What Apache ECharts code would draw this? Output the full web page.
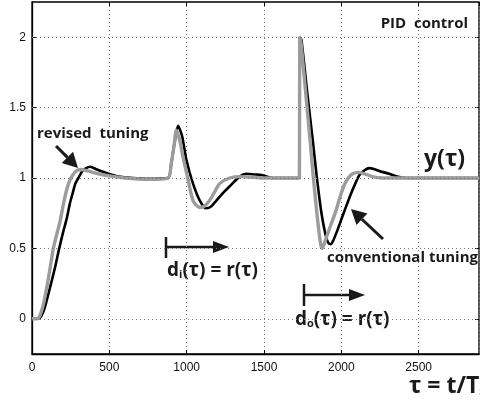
<!DOCTYPE html>
<html>
<head>
<meta charset="utf-8">
<script src="https://cdn.jsdelivr.net/npm/echarts@6/dist/echarts.min.js"></script>
<style>
html,body{margin:0;padding:0;background:#fff;}
#main{width:480px;height:409px;}
</style>
</head>
<body>
<div id="main"></div>
<script>
// conventional tuning (black)
var tConv = [0, 40, 60, 80, 116, 150, 176, 200, 224, 245, 265, 280, 300, 323, 350, 376, 420, 495, 560, 650,
	750, 880, 900, 920, 944, 970, 998, 1041, 1085, 1127, 1160, 1192, 1240, 1277, 1342, 1385, 1440, 1490, 1560, 1650,
	1729, 1731, 1742, 1780, 1815, 1840, 1870, 1897, 1915, 1930, 1945, 1975, 2008, 2035, 2063, 2090, 2116, 2150, 2181,
	2220, 2260, 2310, 2360, 2420, 2550, 2700, 2890];
var yConv = [0, 0, 0.02, 0.07, 0.22, 0.37, 0.5, 0.61, 0.71, 0.82, 0.9, 0.96, 1.0, 1.045, 1.07, 1.08, 1.06, 1.03, 1.01, 1.0,
	0.995, 1.0, 1.1, 1.24, 1.37, 1.3, 1.13, 0.96, 0.84, 0.785, 0.8, 0.84, 0.9, 0.94, 1.01, 1.03, 1.025, 1.02, 1.0, 1.0,
	1.0, 2.0, 1.98, 1.6, 1.27, 1.02, 0.76, 0.6, 0.54, 0.53, 0.55, 0.63, 0.73, 0.81, 0.89, 0.96, 1.02, 1.055, 1.07,
	1.06, 1.045, 1.03, 1.01, 1.0, 1.0, 1.0, 1.0];
// revised tuning (gray)
var tRev = [0, 30, 50, 73, 100, 120, 138, 160, 181, 204, 225, 247, 280, 312, 360, 430, 500, 600, 750, 880,
	900, 920, 933, 955, 976, 1009, 1041, 1084, 1115, 1148, 1180, 1213, 1277, 1350, 1500, 1650, 1729, 1731, 1740, 1770,
	1800, 1820, 1840, 1855, 1865, 1873, 1885, 1910, 1940, 1966, 1990, 2019, 2045, 2073, 2110, 2150, 2200, 2260, 2400,
	2600, 2890];
var yRev = [0, 0, 0.02, 0.1, 0.25, 0.38, 0.5, 0.6, 0.69, 0.82, 0.92, 0.99, 1.045, 1.06, 1.05, 1.03, 1.015, 1.0, 0.99, 1.0,
	1.1, 1.24, 1.34, 1.27, 1.15, 0.99, 0.84, 0.79, 0.8, 0.84, 0.9, 0.96, 1.0, 1.01, 1.0, 1.0, 1.0, 2.0, 1.95, 1.6,
	1.24, 0.99, 0.77, 0.62, 0.54, 0.5, 0.52, 0.6, 0.69, 0.77, 0.86, 0.95, 1.0, 1.03, 1.04, 1.03, 1.01, 1.0, 1.0,
	1.0, 1.0];
// y ticks / dotted grid rows
var yTicks = [0, 0.5, 1, 1.5, 2];

function pairs(t, y) {
	var out = [];
	for (var i = 0; i < t.length; i++) out.push([t[i], y[i]]);
	return out;
}

// arrow = line + triangle head
function arrow(x1, y1, x2, y2, len, w, lw) {
	var dx = x2 - x1, dy = y2 - y1, d = Math.sqrt(dx * dx + dy * dy);
	var ux = dx / d, uy = dy / d;
	var bx = x2 - ux * len, by = y2 - uy * len;
	return [{
		type: 'line', shape: {x1: x1, y1: y1, x2: bx, y2: by},
		style: {stroke: '#1a1a1a', lineWidth: lw}
	}, {
		type: 'polygon',
		shape: {points: [[x2, y2], [bx - uy * w, by + ux * w], [bx + uy * w, by - ux * w]]},
		style: {fill: '#1a1a1a'}
	}];
}

var FONT = '"Open Sans", "DejaVu Sans", sans-serif';
var txt = '#1a1a1a';

var myChart = echarts.init(document.getElementById('main'));

var gfx = [].concat(
	arrow(56, 146, 78, 168, 15, 8, 3),
	arrow(383, 239, 351, 209, 15, 8, 3),
	arrow(166, 247, 229, 247, 16, 6, 2.5),
	arrow(304, 295, 365, 295, 16, 6, 2.5),
	[{
		type: 'line', shape: {x1: 166, y1: 237, x2: 166, y2: 258},
		style: {stroke: '#1a1a1a', lineWidth: 2.5}
	}, {
		type: 'line', shape: {x1: 304, y1: 284, x2: 304, y2: 306},
		style: {stroke: '#1a1a1a', lineWidth: 2.5}
	}, {
		type: 'text', x: 468, y: 24,
		style: {text: 'PID  control', font: 'bold 15px ' + FONT, fill: txt, textAlign: 'right', textVerticalAlign: 'middle'}
	}, {
		type: 'text', x: 37, y: 134,
		style: {text: 'revised  tuning', font: 'bold 15px ' + FONT, fill: txt, textAlign: 'left', textVerticalAlign: 'middle'}
	}, {
		type: 'text', x: 424, y: 159,
		style: {text: 'y(τ)', font: 'bold 23px ' + FONT, fill: txt, textAlign: 'left', textVerticalAlign: 'middle'}
	}, {
		type: 'text', x: 327, y: 258,
		style: {text: 'conventional tuning', font: 'bold 15px ' + FONT, fill: txt, textAlign: 'left', textVerticalAlign: 'middle'}
	}, {
		type: 'text', x: 167, y: 271,
		style: {
			text: '{b|d}{s|i}{b|(τ) = r(τ)}', textAlign: 'left', textVerticalAlign: 'middle',
			rich: {
				b: {font: 'bold 19px ' + FONT, fill: txt},
				s: {font: 'bold 11px ' + FONT, fill: txt, verticalAlign: 'bottom'}
			}
		}
	}, {
		type: 'text', x: 295, y: 320,
		style: {
			text: '{b|d}{s|o}{b|(τ) = r(τ)}', textAlign: 'left', textVerticalAlign: 'middle',
			rich: {
				b: {font: 'bold 19px ' + FONT, fill: txt},
				s: {font: 'bold 11px ' + FONT, fill: txt, verticalAlign: 'bottom'}
			}
		}
	}, {
		type: 'text', x: 409, y: 386,
		style: {
			text: '{b|τ = t/T}{s|s}', textAlign: 'left', textVerticalAlign: 'middle',
			rich: {
				b: {font: 'bold 23px ' + FONT, fill: txt},
				s: {font: 'bold 12px ' + FONT, fill: txt, verticalAlign: 'bottom'}
			}
		}
	}]
);

var tickFont = {color: '#111', fontFamily: '"Liberation Sans", Arial, sans-serif', fontSize: 12};
var plain = function (v) { return String(v); };
var option = {
	animation: false,
	backgroundColor: '#fff',
	grid: {left: 32, right: 1, top: 2, bottom: 55, show: true, borderColor: '#000', borderWidth: 1.3},
	xAxis: [{
		type: 'value', min: 0, max: 2890, interval: 500,
		axisLine: {show: true, onZero: false, lineStyle: {color: '#000', width: 1.3}},
		axisTick: {show: true, inside: true, length: 4, lineStyle: {color: '#000'}},
		axisLabel: Object.assign({margin: 8, showMaxLabel: false, formatter: plain}, tickFont),
		splitLine: {show: true, lineStyle: {color: '#777', type: [1, 3], width: 1}}
	}, {
		type: 'value', min: 0, max: 2890, interval: 500, position: 'top',
		axisLine: {show: false, onZero: false},
		axisTick: {show: true, inside: true, length: 4, lineStyle: {color: '#000'}},
		axisLabel: {show: false}, splitLine: {show: false}
	}],
	yAxis: [{
		type: 'value', min: -0.25, max: 2.25,
		axisLine: {show: true, onZero: false, lineStyle: {color: '#000', width: 1.3}},
		axisTick: {show: true, inside: true, length: 4, lineStyle: {color: '#000'}, customValues: yTicks},
		axisLabel: Object.assign({margin: 6, customValues: yTicks, formatter: plain}, tickFont),
		splitLine: {show: false}
	}, {
		type: 'value', min: -0.25, max: 2.25, position: 'right',
		axisLine: {show: false, onZero: false},
		axisTick: {show: true, inside: true, length: 4, lineStyle: {color: '#000'}, customValues: yTicks},
		axisLabel: {show: false}, splitLine: {show: false}
	}],
	series: [{
		name: 'grid rows',
		type: 'line',
		data: [],
		z: 1,
		markLine: {
			silent: true, symbol: 'none', animation: false,
			label: {show: false},
			lineStyle: {color: '#777', type: [1, 3], width: 1},
			data: yTicks.map(function (v) { return {yAxis: v}; })
		}
	}, {
		name: 'conventional tuning',
		type: 'line',
		data: pairs(tConv, yConv),
		smooth: 0.25,
		symbol: 'none',
		lineStyle: {color: '#000', width: 2.6},
		z: 2
	}, {
		name: 'revised tuning',
		type: 'line',
		data: pairs(tRev, yRev),
		smooth: 0.25,
		symbol: 'none',
		lineStyle: {color: '#9c9c9c', width: 3.4},
		z: 3
	}],
	graphic: gfx
};
myChart.setOption(option);
</script>
</body>
</html>
